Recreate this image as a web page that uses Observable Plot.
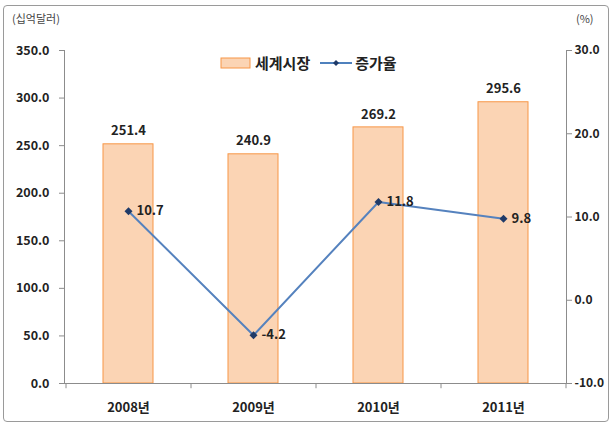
<!DOCTYPE html>
<html><head><meta charset="utf-8">
<script src="https://cdn.jsdelivr.net/npm/d3@7"></script>
<script src="https://cdn.jsdelivr.net/npm/@observablehq/plot@0.6"></script>
<style>
body{margin:0;background:#fff;font-family:"Noto Sans CJK KR","Noto Sans",sans-serif;}
#wrap{position:relative;width:614px;height:428px;overflow:hidden;}
#border{position:absolute;left:3px;top:5px;width:604px;height:415px;border:1px solid #9a9a9a;border-radius:4px;}
.unit{position:absolute;font-size:11px;color:#444;top:10px;}
#legend{position:absolute;top:52px;left:220px;display:flex;align-items:center;font-size:15px;font-weight:bold;color:#222;}
#chart{position:absolute;left:0;top:0;}
#chart svg{overflow:visible;}
</style></head>
<body>
<div id="wrap">
<div id="border"></div>
<div class="unit" style="left:12px">(십억달러)</div>
<div class="unit" style="left:576px">(%)</div>
<div id="chart"></div>
<div id="legend">
 <svg width="32" height="14"><rect x="1" y="2" width="29" height="10" fill="#fbd4b4" stroke="#f79646"/></svg>
 <span style="margin-left:3px;margin-right:10px">세계시장</span>
 <svg width="32" height="14"><line x1="0" y1="7" x2="32" y2="7" stroke="#4f81bd" stroke-width="2"/><path d="M16 4 L19 7 L16 10 L13 7Z" fill="#1f3a68"/></svg>
 <span style="margin-left:3px">증가율</span>
</div>
</div>
<script>
const years = ["2008년", "2009년", "2010년", "2011년"];
const market = [251.4, 240.9, 269.2, 295.6];
const growth = [10.7, -4.2, 11.8, 9.8];
const leftTicks = [0, 50, 100, 150, 200, 250, 300, 350];
const rightTicks = [-10, 0, 10, 20, 30];

const toLeft = v => (v + 10) * 350 / 40;
const fromLeft = v => v * 40 / 350 - 10;
const data = years.map((y, i) => ({year: y, market: market[i], growth: growth[i], g: toLeft(growth[i])}));
const font = "Noto Sans CJK KR";

const chart = Plot.plot({
  width: 614, height: 428,
  marginTop: 50, marginBottom: 45, marginLeft: 64, marginRight: 48,
  style: {fontFamily: font, fontSize: "12.5px", fontWeight: "bold", color: "#222", background: "transparent", overflow: "visible"},
  x: {domain: years, paddingInner: 0.6, paddingOuter: 0.3, label: null},
  y: {domain: [0, 350], label: null},
  marks: [
    Plot.barY(data, {x: "year", y: "market", fill: "#fbd4b4", stroke: "#f79646", strokeWidth: 1}),
    Plot.ruleY([0], {stroke: "#8c8c8c"}),
    Plot.ruleX(years, {x: d => d, y1: 0, y2: -5.5, dx: -62.5, stroke: "#8c8c8c"}),
    Plot.ruleX([years[years.length - 1]], {x: d => d, y1: 0, y2: -5.5, dx: 62.5, stroke: "#8c8c8c"}),
    Plot.frame({anchor: "left", stroke: "#8c8c8c"}),
    Plot.frame({anchor: "right", stroke: "#8c8c8c"}),
    Plot.axisY({anchor: "left", ticks: leftTicks, tickFormat: d => d.toFixed(1), tickSize: 5, tickPadding: 10, stroke: "#8c8c8c", label: null}),
    Plot.axisY({anchor: "right", ticks: rightTicks.map(toLeft), tickFormat: d => fromLeft(d).toFixed(1), tickSize: 5, tickPadding: 3, stroke: "#8c8c8c", label: null, fontSize: 12}),
    Plot.axisX({tickSize: 0, tickPadding: 19, label: null, fontSize: 13}),
    Plot.text(data, {x: "year", y: "market", text: d => d.market.toFixed(1), dy: -13, fontSize: 13, fill: "#222"}),
    Plot.line(data, {x: "year", y: "g", stroke: "#5582be", strokeWidth: 2}),
    Plot.dot(data, {x: "year", y: "g", symbol: "diamond2", r: 3.6, fill: "#1f3a68", stroke: "none"}),
    Plot.text(data, {x: "year", y: "g", text: d => d.growth.toFixed(1), dx: 8, textAnchor: "start", fontSize: 13, fill: "#222"})
  ]
});
document.getElementById("chart").appendChild(chart);
</script>
</body></html>
